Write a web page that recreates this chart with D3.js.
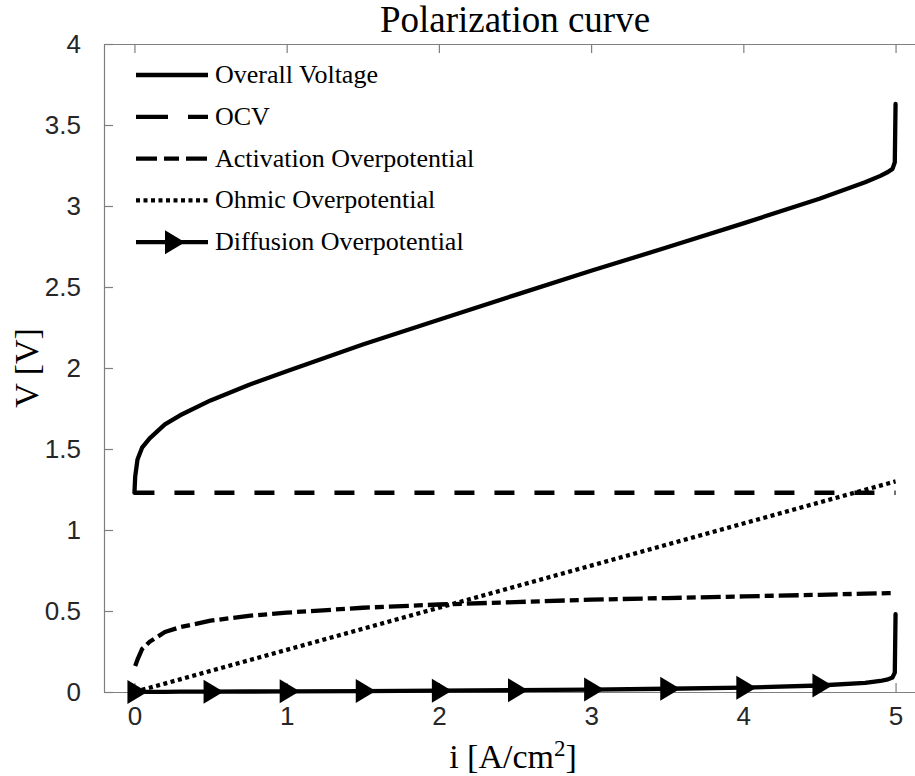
<!DOCTYPE html>
<html>
<head>
<meta charset="utf-8">
<script src="https://cdn.jsdelivr.net/npm/d3@7"></script>
<style>
  html, body { margin: 0; padding: 0; background: #fff; }
  svg { display: block; }
</style>
</head>
<body>
<svg id="chart" width="915" height="776"></svg>
<script>
// current density grid [A/cm2] and the curves
var current = [0, 0.005, 0.02, 0.05, 0.1, 0.2, 0.3, 0.5, 0.75, 1, 1.5, 2, 2.5, 3, 3.5, 4, 4.5, 4.8, 4.9, 4.95, 4.98, 4.995, 5];
var overallVoltage = [1.23, 1.33, 1.435, 1.508, 1.566, 1.652, 1.708, 1.80, 1.895, 1.98, 2.145, 2.298, 2.45, 2.60, 2.745, 2.893, 3.045, 3.146, 3.186, 3.21, 3.229, 3.27, 3.63];
var ocv = [1.23, 1.23, 1.23, 1.23, 1.23, 1.23, 1.23, 1.23, 1.23, 1.23, 1.23, 1.23, 1.23, 1.23, 1.23, 1.23, 1.23, 1.23, 1.23, 1.23, 1.23, 1.23, 1.23];
var activation = [null, 0.16, 0.20, 0.265, 0.31, 0.37, 0.40, 0.44, 0.47, 0.49, 0.52, 0.54, 0.555, 0.57, 0.58, 0.59, 0.60, 0.607, 0.609, 0.61, 0.61, 0.612, 0.612];
var ohmic = [0, 0.001, 0.005, 0.013, 0.026, 0.052, 0.078, 0.13, 0.195, 0.26, 0.39, 0.52, 0.65, 0.78, 0.91, 1.04, 1.17, 1.248, 1.274, 1.287, 1.295, 1.299, 1.30];
var diffusion = [0, 0, 0, 0.001, 0.001, 0.001, 0.002, 0.002, 0.003, 0.004, 0.006, 0.008, 0.011, 0.015, 0.02, 0.027, 0.04, 0.056, 0.068, 0.078, 0.09, 0.12, 0.48];
// marker positions on the diffusion curve
var markerCurrent = [0, 0.5, 1, 1.5, 2, 2.5, 3, 3.5, 4, 4.5];
var markerDiffusion = [0, 0.002, 0.004, 0.006, 0.008, 0.011, 0.015, 0.02, 0.027, 0.04];

var xTicks = [0, 1, 2, 3, 4, 5];
var yTicks = [0, 0.5, 1, 1.5, 2, 2.5, 3, 3.5, 4];
var seriesNames = ["Overall Voltage", "OCV", "Activation Overpotential", "Ohmic Overpotential", "Diffusion Overpotential"];

var margin = { top: 44, left: 104 };
var plotRight = 926, plotBottom = 692;

var svg = d3.select("#chart");

var x = d3.scaleLinear().domain([-0.2, 5.2]).range([margin.left, plotRight]);
var y = d3.scaleLinear().domain([0, 4]).range([plotBottom, margin.top]);

var axisColor = "#262626";
var sans = "'Liberation Sans', Arial, sans-serif";
var serif = "'Liberation Serif', 'Times New Roman', serif";
var lw = 4.3;

function styleAxis(g) {
  g.select(".domain").attr("stroke", "#7f7f7f").attr("stroke-width", 1.2);
  g.selectAll(".tick line").attr("stroke", "#7f7f7f").attr("stroke-width", 1.2);
  g.selectAll(".tick text").attr("fill", axisColor).attr("font-family", sans).attr("font-size", 26);
}

svg.append("g")
  .attr("transform", "translate(0," + plotBottom + ")")
  .call(d3.axisBottom(x).tickValues(xTicks).tickSizeInner(-9).tickSizeOuter(0).tickPadding(15).tickFormat(d3.format("d")))
  .call(styleAxis);

svg.append("g")
  .attr("transform", "translate(0," + margin.top + ")")
  .call(d3.axisTop(x).tickValues(xTicks).tickSizeInner(-9).tickSizeOuter(0).tickFormat(""))
  .call(styleAxis);

svg.append("g")
  .attr("transform", "translate(" + margin.left + ",0)")
  .call(d3.axisLeft(y).tickValues(yTicks).tickSizeInner(-9).tickSizeOuter(0).tickPadding(23).tickFormat(function (d) { return String(d); }))
  .call(styleAxis);

// curves
var rows = current.map(function (c, k) {
  return { i: c, overall: overallVoltage[k], ocv: ocv[k], act: activation[k], ohm: ohmic[k], diff: diffusion[k] };
});

function lineFor(key) {
  return d3.line()
    .defined(function (d) { return d[key] !== null; })
    .x(function (d) { return x(d.i); })
    .y(function (d) { return y(d[key]); });
}

var styles = [
  { key: "overall", dash: null, cap: "round" },
  { key: "ocv", dash: "20,20", cap: "butt" },
  { key: "act", dash: "20,5,9,5", cap: "butt" },
  { key: "ohm", dash: "4,3.5", cap: "butt" },
  { key: "diff", dash: null, cap: "round" }
];

var plot = svg.append("g");
styles.forEach(function (s) {
  plot.append("path")
    .datum(rows)
    .attr("fill", "none")
    .attr("stroke", "#000")
    .attr("stroke-width", lw)
    .attr("stroke-linejoin", "round")
    .attr("stroke-linecap", s.cap)
    .attr("stroke-dasharray", s.dash)
    .attr("d", lineFor(s.key));
});

var tri = "M-7,-12L-7,12L13,0Z";
plot.selectAll(".marker")
  .data(markerCurrent)
  .join("path")
  .attr("class", "marker")
  .attr("d", tri)
  .attr("fill", "#000")
  .attr("transform", function (d, k) { return "translate(" + x(d) + "," + y(markerDiffusion[k]) + ")"; });

// legend
var legend = svg.append("g");
seriesNames.forEach(function (name, k) {
  var ly = 75 + k * 41.8;
  legend.append("line")
    .attr("x1", 136).attr("x2", 208)
    .attr("y1", ly).attr("y2", ly)
    .attr("stroke", "#000")
    .attr("stroke-width", lw)
    .attr("stroke-dasharray", k === 1 ? "32,20" : k === 2 ? "21,7,15,7" : styles[k].dash);
  if (k === 4) {
    legend.append("path").attr("d", tri).attr("fill", "#000")
      .attr("transform", "translate(172," + ly + ")");
  }
  legend.append("text")
    .attr("x", 215).attr("y", ly + 8)
    .attr("font-family", serif).attr("font-size", 26)
    .attr("fill", "#000")
    .text(name);
});

// title and labels
svg.append("text")
  .attr("x", 515).attr("y", 32)
  .attr("text-anchor", "middle")
  .attr("font-family", serif).attr("font-size", 37)
  .attr("fill", "#000")
  .text("Polarization curve");

var xl = svg.append("text")
  .attr("x", 513).attr("y", 768)
  .attr("text-anchor", "middle")
  .attr("font-family", serif).attr("font-size", 34)
  .attr("fill", "#000");
xl.append("tspan").text("i [A/cm");
xl.append("tspan").attr("dy", -12).attr("font-size", 23).text("2");
xl.append("tspan").attr("dy", 12).text("]");

svg.append("text")
  .attr("transform", "translate(38,368) rotate(-90)")
  .attr("text-anchor", "middle")
  .attr("font-family", serif).attr("font-size", 34)
  .attr("fill", "#000")
  .text("V [V]");
</script>
</body>
</html>
